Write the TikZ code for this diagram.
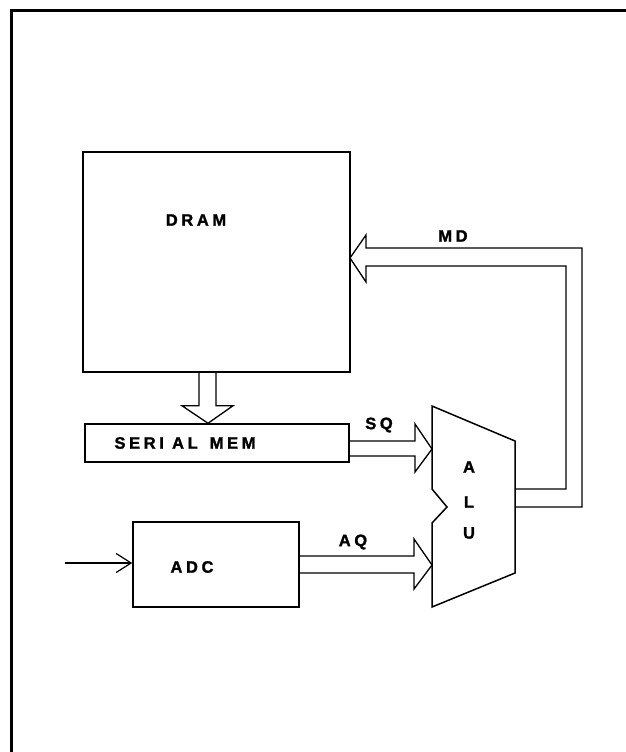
\documentclass[tikz,border=0pt]{standalone}
\usepackage{fontspec}
\newfontfamily\lblfont{Liberation Sans Bold}[LetterSpace=22,FakeBold=1.5]
\usetikzlibrary{arrows.meta,calc}
\begin{document}
\begin{tikzpicture}[x=1pt,y=-1pt,
  box/.style={draw,line width=1.5pt,inner sep=0pt},
  lbl/.style={font=\lblfont\fontsize{16.5}{16.5}\selectfont,inner sep=0pt},
  fat/.style={draw,line width=1.3pt,line join=miter},
  thin/.style={draw,line width=1.2pt}]
\useasboundingbox (0,0) rectangle (626,752);
% frame
\draw[line width=3pt] (626,11) -- (11,11) -- (11,752);
% blocks
\node[box,minimum width=267pt,minimum height=220pt] (dram) at (216.5,262) {};
\node[lbl] (dramlbl) at (196,220) {DRAM};
\node[box,minimum width=264pt,minimum height=38pt] (ser) at (217,443) {};
\node[lbl] (serlbl) at (185,443) {SERI AL\hspace{12pt}MEM};
\node[box,minimum width=166pt,minimum height=85pt] (adc) at (216,564.5) {};
\node[lbl] (adclbl) at (192,567) {ADC};
% ALU
\coordinate (alutl) at (432,406);
\coordinate (alutr) at (515,441);
\coordinate (alubr) at (515,573);
\coordinate (alubl) at (432,607);
\draw[line width=1.5pt,line join=miter] (alutl) -- (alutr) -- (alubr) -- (alubl)
  -- (432,523) -- (447,507) -- (432,489) -- cycle;
\node[lbl] (alua) at (469,467) {A};
\node[lbl] (alul) at (469,502) {L};
\node[lbl] (aluu) at (469,533) {U};
\coordinate (sqtip) at (432,449);
\coordinate (aqtip) at (432,565);
% DRAM -> SERIAL MEM
\path[fat] ($(dram.south)+(-17.5,0)$) -- ++(0,33) -- ++(-17,0) -- ($(ser.north)+(-9,0)$)
  -- ($(dram.south)+(16.5,33)$) -- ++(-17,0) -- ++(0,-33);
% SQ
\path[fat] ($(ser.east)+(0,-2)$) -- (415,441) -- (415,424) -- (sqtip) -- (415,472) -- (415,456) -- ($(ser.east)+(0,13)$);
\node[lbl] (sq) at (379,425) {SQ};
% AQ
\path[fat] ($(adc.east)+(0,-8.5)$) -- (414,556) -- (414,539) -- (aqtip) -- (414,589) -- (414,573) -- ($(adc.east)+(0,8.5)$);
\node[lbl] (aq) at (353,542) {AQ};
% MD
\coordinate (mdtip) at (350,258);
\path[fat] (515,507) -- (582,507) -- (582,248) -- (366,248) -- (366,235) -- (mdtip) -- (366,282) -- (366,266) -- (566,266) -- (566,489) -- (515,489);
\node[lbl] (md) at (453,236) {MD};
% input
\coordinate (in) at (65,563);
\draw[thin,-{Straight Barb[length=15pt,width=19pt,line width=1.2pt]}] (in) -- (adc.west |- in);
\end{tikzpicture}
\end{document}
